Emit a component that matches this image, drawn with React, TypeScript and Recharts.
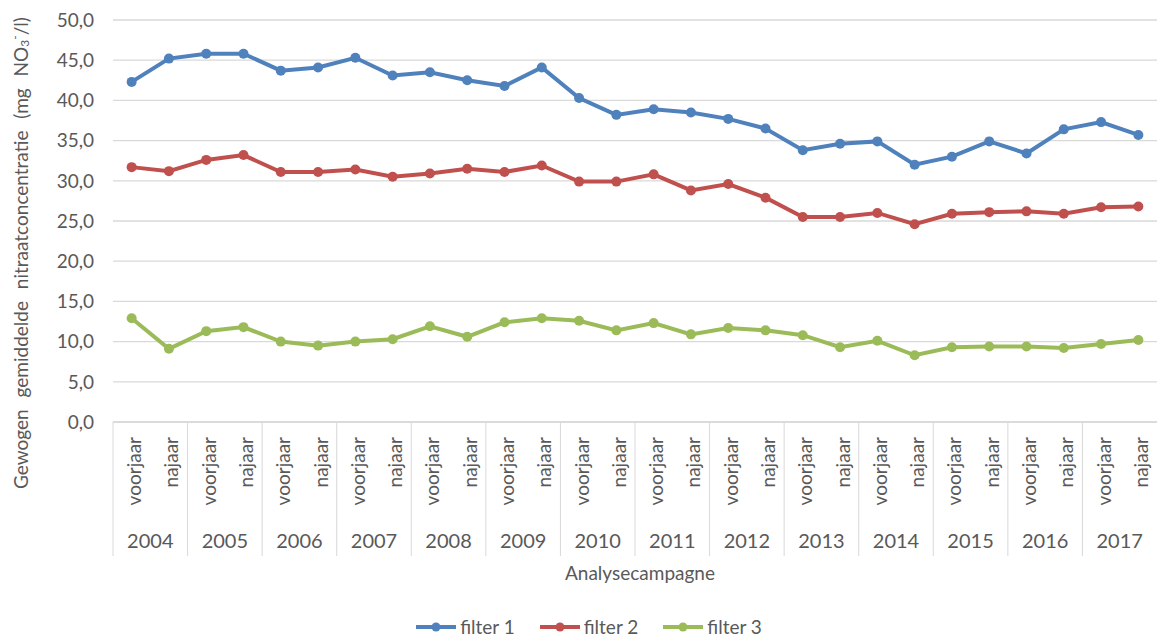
import React from 'react';
import { LineChart, Line, XAxis, YAxis, CartesianGrid, Legend } from 'recharts';

const years = ['2004', '2005', '2006', '2007', '2008', '2009', '2010', '2011', '2012', '2013', '2014', '2015', '2016', '2017'];
const seasons = ['voorjaar', 'najaar'];
const filter1 = [42.3, 45.2, 45.8, 45.8, 43.7, 44.1, 45.3, 43.1, 43.5, 42.5, 41.8, 44.1, 40.3, 38.2, 38.9, 38.5, 37.7, 36.5, 33.8, 34.6, 34.9, 32.0, 33.0, 34.9, 33.4, 36.4, 37.3, 35.7];
const filter2 = [31.7, 31.2, 32.6, 33.2, 31.1, 31.1, 31.4, 30.5, 30.9, 31.5, 31.1, 31.9, 29.9, 29.9, 30.8, 28.8, 29.6, 27.9, 25.5, 25.5, 26.0, 24.6, 25.9, 26.1, 26.2, 25.9, 26.7, 26.8];
const filter3 = [12.9, 9.1, 11.3, 11.8, 10.0, 9.5, 10.0, 10.3, 11.9, 10.6, 12.4, 12.9, 12.6, 11.4, 12.3, 10.9, 11.7, 11.4, 10.8, 9.3, 10.1, 8.3, 9.3, 9.4, 9.4, 9.2, 9.7, 10.2];
const yTicks = [0, 5, 10, 15, 20, 25, 30, 35, 40, 45, 50];
const seriesNames = ['filter 1', 'filter 2', 'filter 3'];
const seriesColors = ['#4F81BD', '#C0504D', '#9BBB59'];

const data = years.flatMap((y, i) =>
  seasons.map((s, j) => ({
    cat: `${s} ${y}`,
    f1: filter1[i * 2 + j],
    f2: filter2[i * 2 + j],
    f3: filter3[i * 2 + j],
  }))
);

const W = 1157;
const H = 638;
const Y_AXIS_W = 113;
const HALF_STEP = (W - Y_AXIS_W) / data.length / 2;
const FONT = 'Lato, "Open Sans", sans-serif';
const TXT = '#595959';
const GRID = '#D9D9D9';

const SeasonTick = (props: any) => {
  const { x, y, payload } = props;
  const i: number = payload.index;
  const even = i % 2 === 0;
  return (
    <g>
      <text
        transform={`translate(${x + 2},${y + 15}) rotate(-90)`}
        textAnchor="end"
        dominantBaseline="central"
        fontSize={19}
        fill={TXT}
        fontFamily={FONT}
      >
        {seasons[i % 2]}
      </text>
      {even && <line x1={x - HALF_STEP} x2={x - HALF_STEP} y1={y} y2={y + 134} stroke={GRID} strokeWidth={1} />}
      {!even && (
        <text x={x - HALF_STEP} y={y + 126} textAnchor="middle" fontSize={20} fill={TXT} fontFamily={FONT}>
          {years[Math.floor(i / 2)]}
        </text>
      )}
    </g>
  );
};

const XLabel = (props: any) => {
  const vb = props.viewBox || {};
  return (
    <text x={vb.x + vb.width / 2 + 5} y={vb.y + 158} textAnchor="middle" fontSize={19} fill={TXT} fontFamily={FONT}>
      Analysecampagne
    </text>
  );
};

const YLabel = () => (
  <text
    transform={`translate(20,253) rotate(-90)`}
    textAnchor="middle"
    dominantBaseline="central"
    fontSize={19}
    fill={TXT}
    fontFamily={FONT}
    wordSpacing={7}
  >
    Gewogen gemiddelde nitraatconcentratie (mg NO
    <tspan dy={4} fontSize={12}>3</tspan>
    <tspan dy={-10} fontSize={12}>-</tspan>
    <tspan dy={6}>/l)</tspan>
  </text>
);

const LegendContent = () => (
  <div style={{ height: 64, position: 'relative' }}>
    <div
      style={{
        position: 'absolute',
        left: 0,
        right: 0,
        top: 43,
        height: 20,
        display: 'flex',
        justifyContent: 'center',
        alignItems: 'center',
        paddingLeft: 20,
        lineHeight: '20px',
      }}
    >
      {seriesNames.map((n, k) => (
        <div key={n} style={{ display: 'flex', alignItems: 'center', marginRight: k < 2 ? 24 : 0 }}>
          <svg width={42} height={14}>
            <line x1={1} x2={41} y1={7} y2={7} stroke={seriesColors[k]} strokeWidth={4} />
            <circle cx={21} cy={7} r={4.5} fill={seriesColors[k]} />
          </svg>
          <span style={{ fontFamily: FONT, fontSize: 19, color: TXT, marginLeft: 3 }}>{n}</span>
        </div>
      ))}
    </div>
  </div>
);

export default function App() {
  return (
    <div style={{ position: 'absolute', left: 0, top: 0, width: W, height: H, background: '#fff' }}>
      <LineChart width={W} height={H} data={data} margin={{ top: 20, right: 0, bottom: 0, left: 0 }}>
        <CartesianGrid vertical={false} stroke={GRID} strokeWidth={1.3} />
        <XAxis
          dataKey="cat"
          interval={0}
          padding={{ left: HALF_STEP, right: HALF_STEP }}
          tickLine={false}
          tickSize={0}
          tickMargin={0}
          height={152}
          axisLine={{ stroke: GRID, strokeWidth: 1.3 }}
          tick={<SeasonTick />}
          label={<XLabel />}
        />
        <YAxis
          width={Y_AXIS_W}
          domain={[0, 50]}
          ticks={yTicks}
          axisLine={false}
          tickLine={false}
          tickSize={0}
          tickMargin={19}
          tickFormatter={(v: number) => v.toFixed(1).replace('.', ',')}
          tick={{ fill: TXT, fontSize: 19, fontFamily: FONT }}
          label={<YLabel />}
        />
        <Legend verticalAlign="bottom" content={<LegendContent />} />
        {['f1', 'f2', 'f3'].map((k, idx) => (
          <Line
            key={k}
            dataKey={k}
            name={seriesNames[idx]}
            stroke={seriesColors[idx]}
            strokeWidth={4}
            dot={{ r: 5, fill: seriesColors[idx], stroke: seriesColors[idx], strokeWidth: 0 }}
            isAnimationActive={false}
          />
        ))}
      </LineChart>
    </div>
  );
}
